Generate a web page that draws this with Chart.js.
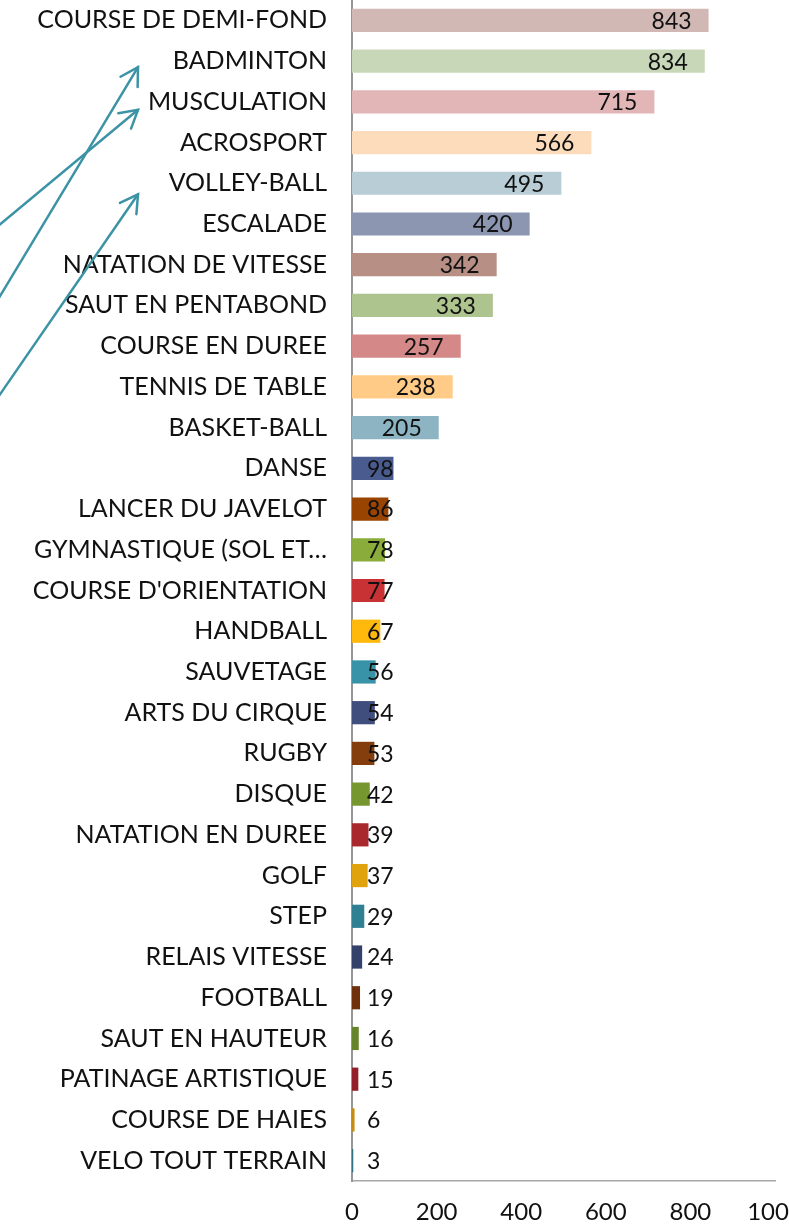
<!DOCTYPE html>
<html>
<head>
<meta charset="utf-8">
<script src="https://cdn.jsdelivr.net/npm/chart.js@4"></script>
<style>
  html, body { margin: 0; padding: 0; background: #fff; overflow: hidden; }
  #wrap { width: 789px; height: 1225px; position: relative; }
</style>
</head>
<body>
<div id="wrap"><canvas id="chart"></canvas></div>
<script>
// données
const categories = [
  "COURSE DE DEMI-FOND", "BADMINTON", "MUSCULATION", "ACROSPORT", "VOLLEY-BALL",
  "ESCALADE", "NATATION DE VITESSE", "SAUT EN PENTABOND", "COURSE EN DUREE",
  "TENNIS DE TABLE", "BASKET-BALL", "DANSE", "LANCER DU JAVELOT",
  "GYMNASTIQUE (SOL ET\u2026", "COURSE D'ORIENTATION", "HANDBALL", "SAUVETAGE",
  "ARTS DU CIRQUE", "RUGBY", "DISQUE", "NATATION EN DUREE", "GOLF", "STEP",
  "RELAIS VITESSE", "FOOTBALL", "SAUT EN HAUTEUR", "PATINAGE ARTISTIQUE",
  "COURSE DE HAIES", "VELO TOUT TERRAIN"
];
const values = [843, 834, 715, 566, 495, 420, 342, 333, 257, 238, 205, 98, 86, 78, 77, 67, 56, 54, 53, 42, 39, 37, 29, 24, 19, 16, 15, 6, 3];
const barColors = [
  "#d1b8b4", "#c9d7b9", "#e2b6b7", "#fddcbb", "#b9cdd6",
  "#8c96b1", "#b78f85", "#adc48f", "#d48888", "#ffcb86",
  "#8cb4c2", "#4a5b90", "#9a4402", "#8aac3a", "#c83234",
  "#ffb80c", "#3893a9", "#3f4e7c", "#843d0c", "#76962f",
  "#a8282d", "#e0a30d", "#2f8093", "#33416b", "#6f310b",
  "#66852a", "#932029", "#c78c0b", "#2f7182"
];
const xTicks = [0, 200, 400, 600, 800, 1000];

// flèches (annotation) : catégorie visée + décalage
const arrows = [
  { target: "BADMINTON", dy: 6, slope: 1.66 },
  { target: "MUSCULATION", dy: 8, slope: 0.83 },
  { target: "VOLLEY-BALL", dy: 11, slope: 1.45 }
];

const FONT = "Lato, 'DejaVu Sans', sans-serif";

const valueLabels = {
  id: "valueLabels",
  afterDatasetsDraw(chart) {
    const ctx = chart.ctx;
    const xs = chart.scales.x;
    const meta = chart.getDatasetMeta(0);
    ctx.save();
    ctx.font = "23px " + FONT;
    ctx.fillStyle = "#111";
    ctx.textBaseline = "middle";
    ctx.textAlign = "left";
    meta.data.forEach((bar, i) => {
      const txt = String(values[i]);
      const w = ctx.measureText(txt).width;
      const end = xs.getPixelForValue(values[i]);
      const x = Math.max(end - 17 - w, xs.left + 15);
      ctx.fillText(txt, x, bar.y + 1);
    });
    ctx.restore();
  }
};

const arrowPlugin = {
  id: "arrowPlugin",
  afterDraw(chart) {
    const ctx = chart.ctx;
    const ys = chart.scales.y;
    const tipX = chart.chartArea.left - 214;
    ctx.save();
    ctx.strokeStyle = "#3d93a6";
    ctx.lineWidth = 2.5;
    ctx.lineCap = "round";
    arrows.forEach(a => {
      const tipY = ys.getPixelForValue(categories.indexOf(a.target)) + a.dy;
      const sx = -5, sy = tipY + (tipX - sx) * a.slope;
      ctx.beginPath();
      ctx.moveTo(sx, sy);
      ctx.lineTo(tipX, tipY);
      ctx.stroke();
      const ang = Math.atan2(sy - tipY, sx - tipX);
      const len = 20, spread = Math.PI / 6;
      ctx.beginPath();
      ctx.moveTo(tipX + len * Math.cos(ang - spread), tipY + len * Math.sin(ang - spread));
      ctx.lineTo(tipX, tipY);
      ctx.lineTo(tipX + len * Math.cos(ang + spread), tipY + len * Math.sin(ang + spread));
      ctx.stroke();
    });
    ctx.restore();
  }
};

new Chart(document.getElementById("chart"), {
  type: "bar",
  data: {
    labels: categories,
    datasets: [{
      data: values,
      backgroundColor: barColors,
      borderWidth: 0,
      barPercentage: 0.57,
      categoryPercentage: 1
    }]
  },
  options: {
    indexAxis: "y",
    responsive: true,
    maintainAspectRatio: false,
    animation: false,
    layout: { padding: { top: 0, right: 14, bottom: 0, left: 0 } },
    plugins: { legend: { display: false }, tooltip: { enabled: false } },
    scales: {
      x: {
        min: 0, max: 1000,
        afterBuildTicks: s => { s.ticks = xTicks.map(v => ({ value: v })); },
        afterFit: s => { s.height = 44; s.paddingRight = 0; s.paddingLeft = 0; },
        grid: { display: false, drawTicks: false },
        border: { display: true, color: "#a8a8a8", width: 1.5 },
        ticks: {
          padding: 17, color: "#111", font: { family: FONT, size: 24 }, maxRotation: 0,
          callback: v => String(v)
        }
      },
      y: {
        afterFit: s => { s.width = 352; s.paddingTop = 0; s.paddingBottom = 0; },
        grid: { display: false, drawTicks: false },
        border: { display: true, color: "#969696", width: 2 },
        ticks: { padding: 25, color: "#111", font: { family: FONT, size: 25 }, autoSkip: false }
      }
    }
  },
  plugins: [valueLabels, arrowPlugin]
});
</script>
</body>
</html>
